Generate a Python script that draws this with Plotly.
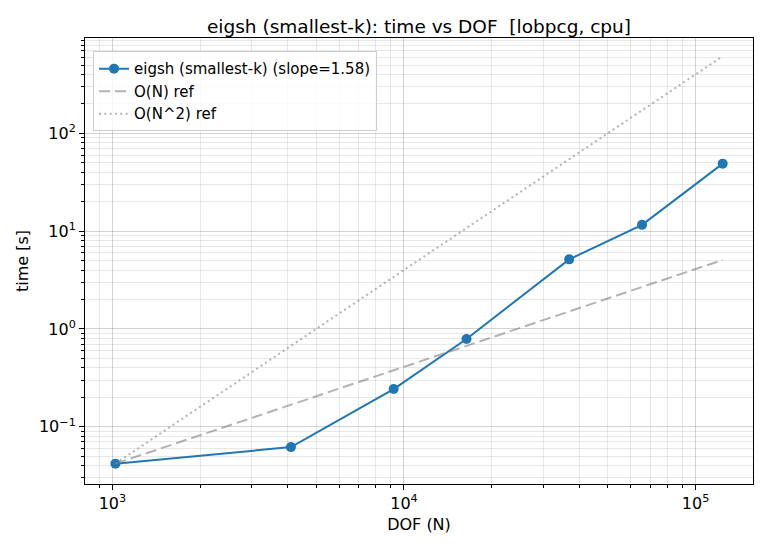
import plotly.graph_objects as go

# measured points (DOF vs wall time)
dof = [1024, 4096, 9216, 16384, 36864, 65536, 123904]
time_s = [0.042, 0.062, 0.243, 0.79, 5.15, 11.6, 49.0]
slope_label = '1.58'

# reference lines, read at first and last DOF
ref_x = [1024, 123904]
ref_n = [0.042, 5.08]
ref_n2 = [0.042, 615.0]

# tick labels
x_ticks = [1e3, 1e4, 1e5]
x_text = ['10<sup>3</sup>', '10<sup>4</sup>', '10<sup>5</sup>']
y_ticks = [0.1, 1, 10, 100]
y_text = ['10<sup>\u22121</sup>', '10<sup>0</sup>', '10<sup>1</sup>', '10<sup>2</sup>']

blue = '#1f77b4'
grey = 'rgba(128,128,128,0.6)'
font = 'DejaVu Sans'

fig = go.Figure()
fig.add_trace(go.Scatter(x=dof, y=time_s, mode='lines+markers',
                         name=f'eigsh (smallest-k) (slope={slope_label})',
                         line=dict(color=blue, width=2),
                         marker=dict(color=blue, size=10)))
fig.add_trace(go.Scatter(x=ref_x, y=ref_n, mode='lines', name='O(N) ref',
                         line=dict(color=grey, width=2, dash='11px,5px')))
fig.add_trace(go.Scatter(x=ref_x, y=ref_n2, mode='lines', name='O(N^2) ref',
                         line=dict(color=grey, width=2, dash='2px,3.3px')))

grid = 'rgba(0,0,0,0.09)'
axis_common = dict(type='log', tickmode='array',
                   showline=True, linecolor='black', linewidth=1, mirror=True,
                   ticks='outside', ticklen=5, tickcolor='black',
                   showgrid=True, gridcolor=grid, gridwidth=1,
                   zeroline=False, automargin=False,
                   minor=dict(dtick='D1', ticks='outside', ticklen=3,
                              tickcolor='black', showgrid=True,
                              gridcolor=grid, gridwidth=1),
                   tickfont=dict(size=16, color='black', family=font),
                   title_font=dict(size=16, color='black', family=font))

# page body adds an 8px offset, so margins are shifted left/up by 8
fig.update_layout(
    width=770, height=550,
    template='plotly_white',
    plot_bgcolor='white', paper_bgcolor='white',
    font=dict(family=font, size=16, color='black'),
    margin=dict(l=77, r=25, t=30, b=74),
    title=dict(text='eigsh (smallest-k): time vs DOF  [lobpcg, cpu]',
               x=0.5, xref='paper', xanchor='center', y=0.967, yanchor='middle',
               font=dict(size=18.5, family=font, color='black')),
    xaxis=dict(axis_common, tickvals=x_ticks, ticktext=x_text,
               title=dict(text='DOF (N)', standoff=6),
               range=[2.906, 5.197]),
    yaxis=dict(axis_common, tickvals=y_ticks, ticktext=y_text,
               title=dict(text='time [s]', standoff=6),
               range=[-1.585, 2.975]),
    legend=dict(x=0.012, y=0.97, xanchor='left', yanchor='top',
                bgcolor='rgba(255,255,255,0.8)', bordercolor='#cccccc',
                borderwidth=1, font=dict(size=15, family=font),
                tracegroupgap=0),
    showlegend=True,
)

fig.write_html('out.html')
